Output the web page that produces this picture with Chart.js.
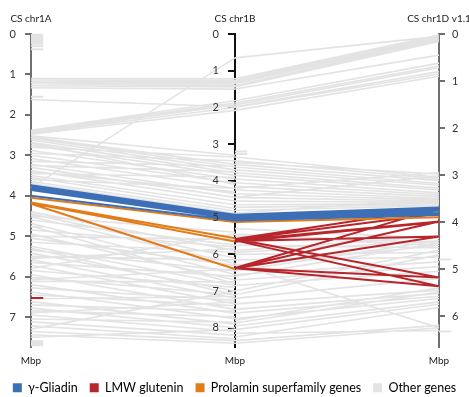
<!DOCTYPE html>
<html>
<head>
<meta charset="utf-8">
<script src="https://cdn.jsdelivr.net/npm/chart.js@4"></script>
<style>
  html, body { margin: 0; padding: 0; background: #fff; }
  #wrap { width: 469px; height: 397px; }
</style>
</head>
<body>
<div id="wrap"><canvas id="myChart"></canvas></div>
<script>
// axes
const axisNames = ["CS chr1A", "CS chr1B", "CS chr1D v1.1"];
const axisMax = [7.73, 8.51, 6.65]; // Mbp at the bottom of each axis
const unitLabel = "Mbp";

const legendNames = ["γ-Gliadin", "LMW glutenin", "Prolamin superfamily genes", "Other genes"];
const legendColors = ["#3d6fb6", "#b8262c", "#e27b1a", "#e3e3e3"];

// chr1A -> chr1B links, [A Mbp, B Mbp]
const gliadinAB = [[3.74, 4.92], [3.77, 4.95], [3.80, 4.98], [3.83, 5.01], [3.86, 5.04], [4.00, 5.08]];
const prolaminAB = [[4.05, 5.12], [4.17, 5.56], [4.19, 5.65], [4.20, 6.40]];
const otherAB = [
  [1.10, 1.22], [1.13, 1.27], [1.16, 1.31], [1.19, 1.35], [1.23, 1.40], [1.28, 1.44], [1.33, 1.50],
  [1.62, 1.98], [2.38, 1.82], [2.40, 1.88], [2.42, 1.93], [2.45, 2.00], [2.48, 2.08], [3.80, 0.65],
  [2.55, 3.55], [2.58, 3.62], [2.62, 3.70], [2.68, 3.78], [2.75, 3.85], [2.80, 3.35], [2.88, 3.95],
  [2.95, 3.45], [3.00, 4.05], [3.08, 4.20], [3.15, 3.60], [3.22, 4.35], [3.30, 4.45], [3.38, 4.55],
  [3.45, 3.90], [3.50, 4.65], [3.55, 4.75], [3.60, 4.20], [3.65, 4.82], [3.70, 4.88], [2.52, 3.30],
  [2.70, 4.10], [3.25, 3.75], [3.40, 4.30],
  [4.40, 5.90], [4.45, 6.10], [4.52, 6.25], [4.60, 5.75], [4.68, 6.55], [4.85, 5.80], [4.95, 6.70],
  [5.05, 6.30], [5.15, 5.95], [5.25, 6.85], [5.35, 6.45], [5.42, 7.00], [5.50, 6.15], [5.58, 7.20],
  [5.65, 6.60], [5.72, 7.35], [5.80, 5.45], [5.85, 6.90], [5.95, 7.50], [6.02, 7.10], [6.12, 6.75],
  [6.20, 7.60], [6.28, 7.25], [6.38, 7.75], [6.45, 7.40], [6.62, 7.90], [6.70, 7.55], [6.78, 8.00],
  [6.85, 7.70], [6.95, 8.10], [7.05, 7.85], [7.12, 8.20], [7.22, 8.30], [7.30, 7.00], [7.36, 8.35],
  [7.44, 8.42], [7.50, 8.05], [4.50, 5.40], [4.75, 6.80], [5.00, 5.60], [5.30, 7.10], [5.55, 5.85],
  [6.08, 6.40], [6.55, 7.15], [6.90, 7.30]
];

// chr1B -> chr1D links, [B Mbp, D Mbp]
const gliadinBD = [[4.92, 3.69], [4.95, 3.72], [4.98, 3.75], [5.01, 3.78], [5.04, 3.81], [5.08, 3.85]];
const gluteninBD = [
  [5.58, 3.71], [5.60, 3.82], [5.62, 3.99], [5.64, 4.31], [5.58, 5.18], [5.62, 5.37], [5.66, 4.00],
  [6.37, 3.71], [6.37, 3.99], [6.38, 4.31], [6.37, 5.18], [6.38, 5.37]
];
const prolaminBD = [[5.12, 3.90]];
const otherBD = [
  [0.65, 0.05], [1.22, 0.02], [1.27, 0.04], [1.31, 0.07], [1.35, 0.10], [1.40, 0.13], [1.44, 0.16],
  [1.50, 0.45], [1.82, 0.62], [1.88, 0.68], [1.93, 0.72], [1.98, 0.80], [2.00, 0.85], [2.08, 0.90],
  [3.35, 3.05], [3.45, 3.08], [3.55, 3.12], [3.62, 3.18], [3.70, 3.22], [3.78, 3.28], [3.85, 3.32],
  [3.95, 3.38], [4.05, 3.42], [4.15, 3.46], [4.25, 3.50], [4.35, 3.53], [4.45, 3.56], [4.55, 3.58],
  [4.65, 3.61], [4.72, 3.63], [4.80, 3.66], [4.88, 3.50], [4.20, 2.95], [4.45, 3.02], [3.50, 2.98],
  [5.30, 4.35], [5.45, 4.45], [5.75, 4.55], [5.90, 4.30], [6.00, 4.65], [6.15, 4.75], [6.30, 4.50],
  [6.55, 4.85], [6.70, 4.95], [6.85, 5.05], [7.00, 4.60], [7.20, 5.20], [6.25, 6.25], [7.35, 5.45],
  [7.50, 5.52], [7.60, 5.58], [7.75, 5.63], [7.87, 5.49], [7.95, 5.70], [8.05, 5.75], [8.15, 6.31],
  [8.25, 5.82], [8.35, 6.20], [8.42, 6.25], [5.95, 4.40], [6.45, 4.40], [5.50, 4.50], [6.60, 4.45],
  [7.10, 4.70], [7.80, 5.40]
];

// genes with no partner (short stubs)
const otherStubA = [0.02, 0.05, 0.08, 0.11, 0.15, 0.19, 0.24, 0.30, 0.38, 1.55, 4.77, 7.60, 7.65, 7.70];
const gluteninStubA = [6.53];
const otherStubB = [3.20, 3.27];
const otherStubD = [4.80, 6.33];

const stubLen = 0.06;

// all axes share the same pixel height, so values go on a 0..1 track scale
function links(pairs, from) {
  const pts = [];
  pairs.forEach(([u, v]) => {
    pts.push({ x: from, y: u / axisMax[from] });
    pts.push({ x: from + 1, y: v / axisMax[from + 1] });
    pts.push({ x: from + 1, y: null });
  });
  return pts;
}

function stubs(vals, axis) {
  const pts = [];
  vals.forEach((v) => {
    pts.push({ x: axis, y: v / axisMax[axis] });
    pts.push({ x: axis + stubLen, y: v / axisMax[axis] });
    pts.push({ x: axis, y: null });
  });
  return pts;
}

function ds(data, color, width) {
  return {
    data,
    borderColor: color,
    borderWidth: width,
    pointRadius: 0,
    fill: false,
    spanGaps: false,
    tension: 0,
    clip: false,
    yAxisID: "yN",
  };
}

const [blue, red, orange, grey] = legendColors;
const tickFont = { family: "Lato", size: 11 };
const nameFont = { family: "Lato", size: 10 };

function sideAxis(i, position, color, padding, width) {
  return {
    type: "linear",
    position,
    min: 0,
    max: axisMax[i],
    reverse: true,
    ticks: { stepSize: 1, padding, color: "#333", font: tickFont },
    grid: { drawOnChartArea: false, tickLength: 6, color, lineWidth: 2 },
    border: { color, width: 2 },
    afterBuildTicks: (s) => { s.ticks = s.ticks.filter((t) => Number.isInteger(t.value)); },
    afterFit: width ? (s) => { s.width = width; } : undefined,
  };
}

// label row above/below the tracks
function labelAxis(position, padding, height, text) {
  return {
    type: "linear",
    position,
    min: 0,
    max: 2,
    grid: { display: false, drawTicks: false, tickLength: 0 },
    border: { display: false },
    ticks: {
      stepSize: 1,
      padding,
      maxRotation: 0,
      autoSkip: false,
      color: "#222",
      font: nameFont,
      callback: text,
    },
    afterFit: (s) => {
      s.height = height;
      s.paddingLeft = 0;
      s.paddingRight = 0;
    },
  };
}

// middle axis sits at x = 1; its tick labels go left of the tick marks
const midAxis = sideAxis(1, { x: 1 }, "#111", 10, 0);
midAxis.ticks.display = false;

const midLabels = {
  id: "midLabels",
  afterDraw(chart) {
    const s = chart.scales.yB;
    const o = s.options;
    const { ctx } = chart;
    const x = chart.scales.x.getPixelForValue(1) - o.grid.tickLength - o.ticks.padding;
    ctx.save();
    ctx.fillStyle = o.ticks.color;
    ctx.font = `${tickFont.size}px ${tickFont.family}`;
    ctx.textAlign = "right";
    ctx.textBaseline = "middle";
    s.ticks.forEach((t) => ctx.fillText(String(t.value), x, s.getPixelForValue(t.value)));
    ctx.restore();
  },
};

const ctx = document.getElementById("myChart");

const myChart = new Chart(ctx, {
  type: "line",
  data: {
    datasets: [
      ds(links(gliadinAB, 0), blue, 2),
      ds(links(gliadinBD, 1), blue, 2),
      ds(links(prolaminAB, 0), orange, 2),
      ds(links(prolaminBD, 1), orange, 2),
      ds(links(gluteninBD, 1), red, 2),
      ds(stubs(gluteninStubA, 0), red, 2),
      ds(links(otherAB, 0), grey, 1.6),
      ds(links(otherBD, 1), grey, 1.6),
      ds(stubs(otherStubA, 0), grey, 2),
      ds(stubs(otherStubB, 1), grey, 2),
      ds(stubs(otherStubD, 2), grey, 2),
    ],
  },
  options: {
    responsive: true,
    maintainAspectRatio: false,
    animation: false,
    layout: { padding: { top: 0, bottom: -7 } },
    scales: {
      x: labelAxis("bottom", 8, 23, () => unitLabel),
      xTop: labelAxis("top", 9, 34, (v) => axisNames[v]),
      yN: { type: "linear", min: 0, max: 1, reverse: true, display: false },
      yA: sideAxis(0, "left", "#6e6e6e", 9, 31),
      yB: midAxis,
      yD: sideAxis(2, "right", "#6e6e6e", 7, 30),
    },
    plugins: {
      tooltip: { enabled: false },
      legend: {
        position: "bottom",
        onClick: null,
        labels: {
          boxWidth: 9,
          boxHeight: 9,
          padding: 12,
          color: "#222",
          font: { family: "Lato", size: 12.5 },
          generateLabels: () =>
            legendNames.map((t, i) => ({
              text: t,
              fillStyle: legendColors[i],
              strokeStyle: legendColors[i],
              lineWidth: 0,
              hidden: false,
            })),
        },
      },
    },
  },
  plugins: [midLabels],
});
</script>
</body>
</html>
